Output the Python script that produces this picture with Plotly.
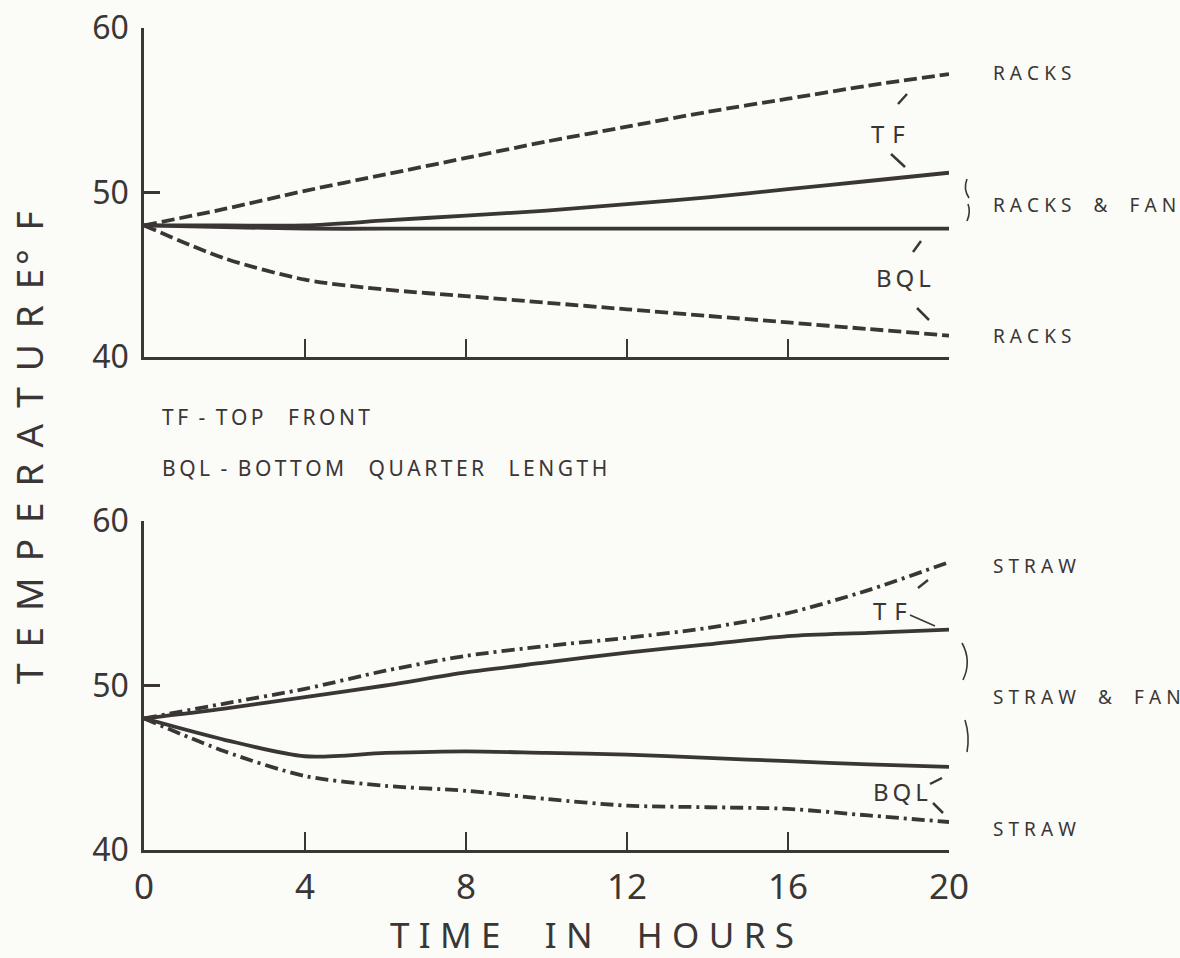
import plotly.graph_objects as go

# ---------------- data ----------------
HOURS = [0, 2, 4, 6, 8, 10, 12, 14, 16, 18, 20]

racks_tf = [48.0, 49.0, 50.1, 51.1, 52.1, 53.1, 54.0, 54.9, 55.7, 56.5, 57.2]
racks_fan_tf = [48.0, 48.0, 48.0, 48.3, 48.6, 48.9, 49.3, 49.7, 50.2, 50.7, 51.2]
racks_fan_bql = [48.0, 47.9, 47.8, 47.8, 47.8, 47.8, 47.8, 47.8, 47.8, 47.8, 47.8]
racks_bql = [48.0, 46.0, 44.7, 44.1, 43.7, 43.3, 42.9, 42.5, 42.1, 41.7, 41.3]

straw_tf = [48.0, 48.9, 49.8, 50.9, 51.8, 52.4, 52.9, 53.5, 54.4, 55.8, 57.5]
straw_fan_tf = [48.0, 48.6, 49.3, 50.0, 50.8, 51.4, 52.0, 52.5, 53.0, 53.2, 53.4]
straw_fan_bql = [48.0, 46.7, 45.7, 45.9, 46.0, 45.9, 45.8, 45.6, 45.4, 45.2, 45.05]
straw_bql = [48.0, 46.0, 44.5, 43.9, 43.6, 43.1, 42.7, 42.6, 42.5, 42.1, 41.7]

X_TICKS = [0, 4, 8, 12, 16, 20]
Y_TICKS = [40, 50, 60]

# ---------------- style ----------------
W, H = 1180, 958
L, R, T, B = 144, 231, 28, 108
PW, PH = W - L - R, H - T - B
INK = "#3b3636"
BG = "#fbfbf7"
FONT = "Noto Sans"

THIN = "\u2009"
HAIR = "\u200a"
EN = "\u2002"
EM = "\u2003"


def px(x):
    return (x - L) / PW


def py(y):
    return (H - B - y) / PH


def spaced(s, letter=THIN, word=EM + THIN):
    return word.join(letter.join(w) for w in s.split(" "))


DASH = "13px,5px"
DASHDOT = "13px,5px,3px,5px"

fig = go.Figure()


def add(y, dash, xa, ya):
    fig.add_trace(go.Scatter(
        x=HOURS, y=y, mode="lines", xaxis=xa, yaxis=ya,
        line=dict(color=INK, width=3.8, dash=dash, shape="spline", smoothing=0.8),
        cliponaxis=False, showlegend=False, hoverinfo="skip"))


add(racks_tf, DASH, "x", "y")
add(racks_fan_tf, "solid", "x", "y")
add(racks_fan_bql, "solid", "x", "y")
add(racks_bql, DASH, "x", "y")
add(straw_tf, DASHDOT, "x2", "y2")
add(straw_fan_tf, "solid", "x2", "y2")
add(straw_fan_bql, "solid", "x2", "y2")
add(straw_bql, DASHDOT, "x2", "y2")

xcommon = dict(range=[0, 20], showline=True, linecolor=INK, linewidth=2.5,
               ticks="inside", ticklen=18, tickwidth=2, tickcolor=INK,
               showgrid=False, zeroline=False, domain=[0, 1], automargin=False)
ycommon = dict(range=[40, 60], showline=True, linecolor=INK, linewidth=2.5,
               ticks="inside", ticklen=16, tickwidth=2.5, tickcolor=INK,
               tickvals=Y_TICKS, ticktext=[str(v) for v in Y_TICKS],
               tickfont=dict(family=FONT, size=32, color=INK),
               ticklabelstandoff=6, automargin=False,
               showgrid=False, zeroline=False)

fig.update_layout(
    width=W, height=H,
    margin=dict(l=L, r=R, t=T, b=B, pad=0, autoexpand=False),
    paper_bgcolor=BG, plot_bgcolor=BG,
    xaxis=dict(**xcommon, anchor="y", tickvals=X_TICKS[1:], showticklabels=False),
    yaxis=dict(**ycommon, anchor="x", domain=[py(357), 1]),
    xaxis2=dict(**xcommon, anchor="y2", tickvals=X_TICKS,
                ticktext=[str(v) for v in X_TICKS],
                tickfont=dict(family=FONT, size=35, color=INK),
                ticklabelstandoff=4),
    yaxis2=dict(**ycommon, anchor="x2", domain=[0, py(521)]),
)

ann = []


def text(x, y, s, size=19, anchor="left", angle=0):
    ann.append(dict(x=px(x), y=py(y), xref="paper", yref="paper", text=s,
                    showarrow=False, xanchor=anchor, yanchor="middle",
                    textangle=angle,
                    font=dict(family=FONT, size=size, color=INK)))


RL = THIN + HAIR          # letter gap of the right-hand labels
RW = EM + THIN            # word gap of the right-hand labels
text(991, 73, spaced("RACKS", RL, RW))
text(991, 205, spaced("RACKS & FAN", RL, RW))
text(991, 336, spaced("RACKS", RL, RW))
text(991, 566, spaced("STRAW", RL, RW))
text(991, 697, spaced("STRAW & FAN", RL, RW))
text(991, 829, spaced("STRAW", RL, RW))

text(888, 134, spaced("TF", THIN + THIN), size=24, anchor="center")
text(903, 277, spaced("BQL"), size=24, anchor="center")
text(890, 610, spaced("TF", THIN + THIN), size=24, anchor="center")
text(900, 791, spaced("BQL"), size=24, anchor="center")

text(160, 417, spaced("TF") + EN + "-" + EN + spaced("TOP FRONT"), size=21)
text(160, 468, spaced("BQL") + EN + "-" + EN + spaced("BOTTOM QUARTER LENGTH"), size=21)

text(592, 935, spaced("TIME IN HOURS", THIN + HAIR, EM + THIN + HAIR), size=35, anchor="center")
text(28, 448, spaced("TEMPERATURE", THIN + THIN + HAIR) + HAIR + "°" + EN + "F",
     size=37, anchor="center", angle=-90)

shapes = []


def seg(x0, y0, x1, y1, w=2.5):
    shapes.append(dict(type="line", xref="paper", yref="paper",
                       x0=px(x0), y0=py(y0), x1=px(x1), y1=py(y1),
                       line=dict(color=INK, width=w)))


# pointer ticks
seg(898, 104, 907, 94)
seg(891, 154, 905, 167)
seg(913, 252, 921, 241)
seg(917, 308, 929, 320)
seg(918, 588, 928, 580)
seg(910, 615, 935, 626, 1.5)
seg(930, 784, 942, 778)
seg(933, 803, 943, 813)


def path(pts):
    d = ""
    for seg_pts in pts:
        (a, b), (c, e), (f, g) = seg_pts
        d += f"M {px(a)},{py(b)} Q {px(c)},{py(e)} {px(f)},{py(g)} "
    shapes.append(dict(type="path", xref="paper", yref="paper", path=d,
                       line=dict(color=INK, width=1.6)))


path([[(967, 179), (963, 189), (969, 198)], [(968, 204), (971, 212), (967, 221)]])
path([[(962, 643), (972, 661), (963, 680)], [(965, 720), (970, 736), (967, 752)]])

fig.update_layout(annotations=ann, shapes=shapes)
fig.write_html(
    "out.html",
    config={"displayModeBar": False},
    post_script="document.body.style.margin='0px';document.body.style.padding='0px';"
                "document.body.style.background='" + BG + "';",
)
